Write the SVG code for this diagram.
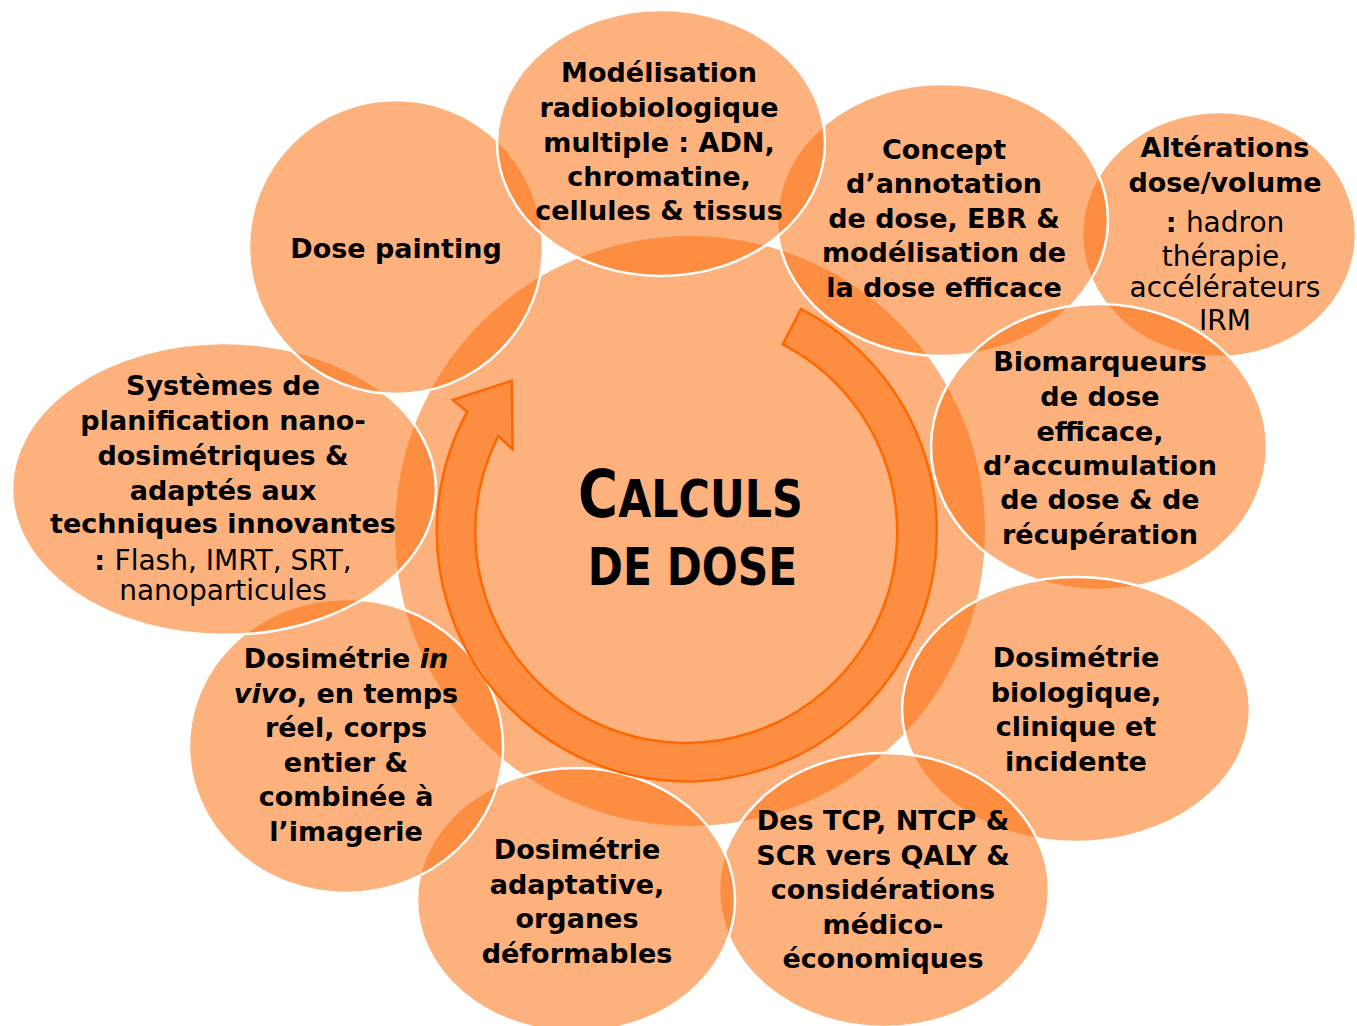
<svg xmlns="http://www.w3.org/2000/svg" width="1357" height="1026" viewBox="0 0 1357 1026">
<style>
.bg{fill:#fff}
.ctr{fill:rgb(251,110,15);fill-opacity:.54}
.sat{fill:rgb(251,110,15);fill-opacity:.54;stroke:#fff;stroke-width:2.5}
.arrow{fill:rgb(251,110,15);fill-opacity:.54;stroke:rgb(255,104,0);stroke-width:2.5;stroke-linejoin:miter}
.t{font-family:"DejaVu Sans","Liberation Sans",sans-serif;font-size:27px;font-weight:bold;text-anchor:middle;fill:#000}
.r{font-weight:normal;font-size:28px}
.i{font-style:italic}
.title{font-family:"DejaVu Sans","Liberation Sans",sans-serif;font-weight:bold;fill:#000;text-anchor:middle}
</style>
<rect class="bg" x="0" y="0" width="1357" height="1026"/>

<g id="node-center">
<circle class="ctr" cx="690" cy="531" r="295"/>
</g>

<g id="node-alterations">
<ellipse class="sat" cx="1219" cy="234.5" rx="137" ry="122.5"/>
<text class="t" x="1225"><tspan x="1225" y="157">Altérations</tspan><tspan x="1225" y="192">dose/volume</tspan><tspan x="1225" y="232">: <tspan class="r">hadron</tspan></tspan><tspan class="r" x="1225" y="266">thérapie,</tspan><tspan class="r" x="1225" y="297">accélérateurs</tspan><tspan class="r" x="1225" y="330">IRM</tspan></text>
</g>

<g id="node-concept">
<ellipse class="sat" cx="942.5" cy="220" rx="165.5" ry="136"/>
<text class="t"><tspan x="944" y="159">Concept</tspan><tspan x="944" y="193">d’annotation</tspan><tspan x="944" y="228">de dose, EBR &amp;</tspan><tspan x="944" y="262">modélisation de</tspan><tspan x="944" y="297">la dose efficace</tspan></text>
</g>

<g id="node-biomarqueurs">
<ellipse class="sat" cx="1099" cy="447" rx="168" ry="143"/>
<text class="t"><tspan x="1100" y="371">Biomarqueurs</tspan><tspan x="1100" y="406">de dose</tspan><tspan x="1100" y="441">efficace,</tspan><tspan x="1100" y="475">d’accumulation</tspan><tspan x="1100" y="509">de dose &amp; de</tspan><tspan x="1100" y="544">récupération</tspan></text>
</g>

<g id="node-dosimetrie-bio">
<ellipse class="sat" cx="1076" cy="709.5" rx="174" ry="132.5"/>
<text class="t"><tspan x="1076" y="667">Dosimétrie</tspan><tspan x="1076" y="702">biologique,</tspan><tspan x="1076" y="736">clinique et</tspan><tspan x="1076" y="771">incidente</tspan></text>
</g>

<g id="node-tcp">
<ellipse class="sat" cx="884" cy="890" rx="165" ry="137"/>
<text class="t"><tspan x="883" y="830">Des TCP, NTCP &amp;</tspan><tspan x="883" y="864.5">SCR vers QALY &amp;</tspan><tspan x="883" y="899">considérations</tspan><tspan x="883" y="933.5">médico-</tspan><tspan x="883" y="968">économiques</tspan></text>
</g>

<g id="node-adaptative">
<ellipse class="sat" cx="576" cy="900" rx="159" ry="132"/>
<text class="t"><tspan x="577" y="859">Dosimétrie</tspan><tspan x="577" y="894">adaptative,</tspan><tspan x="577" y="928">organes</tspan><tspan x="577" y="963">déformables</tspan></text>
</g>

<g id="node-invivo">
<ellipse class="sat" cx="346" cy="746" rx="157" ry="147"/>
<text class="t"><tspan x="346" y="668">Dosimétrie <tspan class="i">in</tspan></tspan><tspan x="346" y="703"><tspan class="i">vivo</tspan>, en temps</tspan><tspan x="346" y="737">réel, corps</tspan><tspan x="346" y="772">entier &amp;</tspan><tspan x="346" y="806">combinée à</tspan><tspan x="346" y="841">l’imagerie</tspan></text>
</g>

<g id="node-systemes">
<ellipse class="sat" cx="224" cy="489" rx="212" ry="146"/>
<text class="t"><tspan x="223" y="395">Systèmes de</tspan><tspan x="223" y="430">planification nano-</tspan><tspan x="223" y="465">dosimétriques &amp;</tspan><tspan x="223" y="500">adaptés aux</tspan><tspan x="223" y="533">techniques innovantes</tspan><tspan x="223" y="570">: <tspan class="r">Flash, IMRT, SRT,</tspan></tspan><tspan class="r" x="223" y="600">nanoparticules</tspan></text>
</g>

<g id="node-dose-painting">
<circle class="sat" cx="396" cy="247" r="147"/>
<text class="t" x="396" y="258">Dose painting</text>
</g>

<g id="node-modelisation">
<ellipse class="sat" cx="661" cy="143" rx="164" ry="133"/>
<text class="t"><tspan x="659" y="82">Modélisation</tspan><tspan x="659" y="117">radiobiologique</tspan><tspan x="659" y="152">multiple : ADN,</tspan><tspan x="659" y="186">chromatine,</tspan><tspan x="659" y="220">cellules &amp; tissus</tspan></text>
</g>

<g id="connectors">
<path class="arrow" d="M 801,309 A 250 250 0 1 1 467.3,411.7 L 452.7,400 L 511.7,380.7 L 512.7,449.3 L 498.3,436 A 211 211 0 1 0 782.7,344.3 Z"/>
</g>

<g id="center-label">
<text class="title" transform="translate(690.5 517) scale(0.84 1)"><tspan font-size="65">C</tspan><tspan font-size="51">ALCULS</tspan></text>
<text class="title" font-size="51" transform="translate(692.5 585) scale(0.83 1)">DE DOSE</text>
</g>
</svg>
